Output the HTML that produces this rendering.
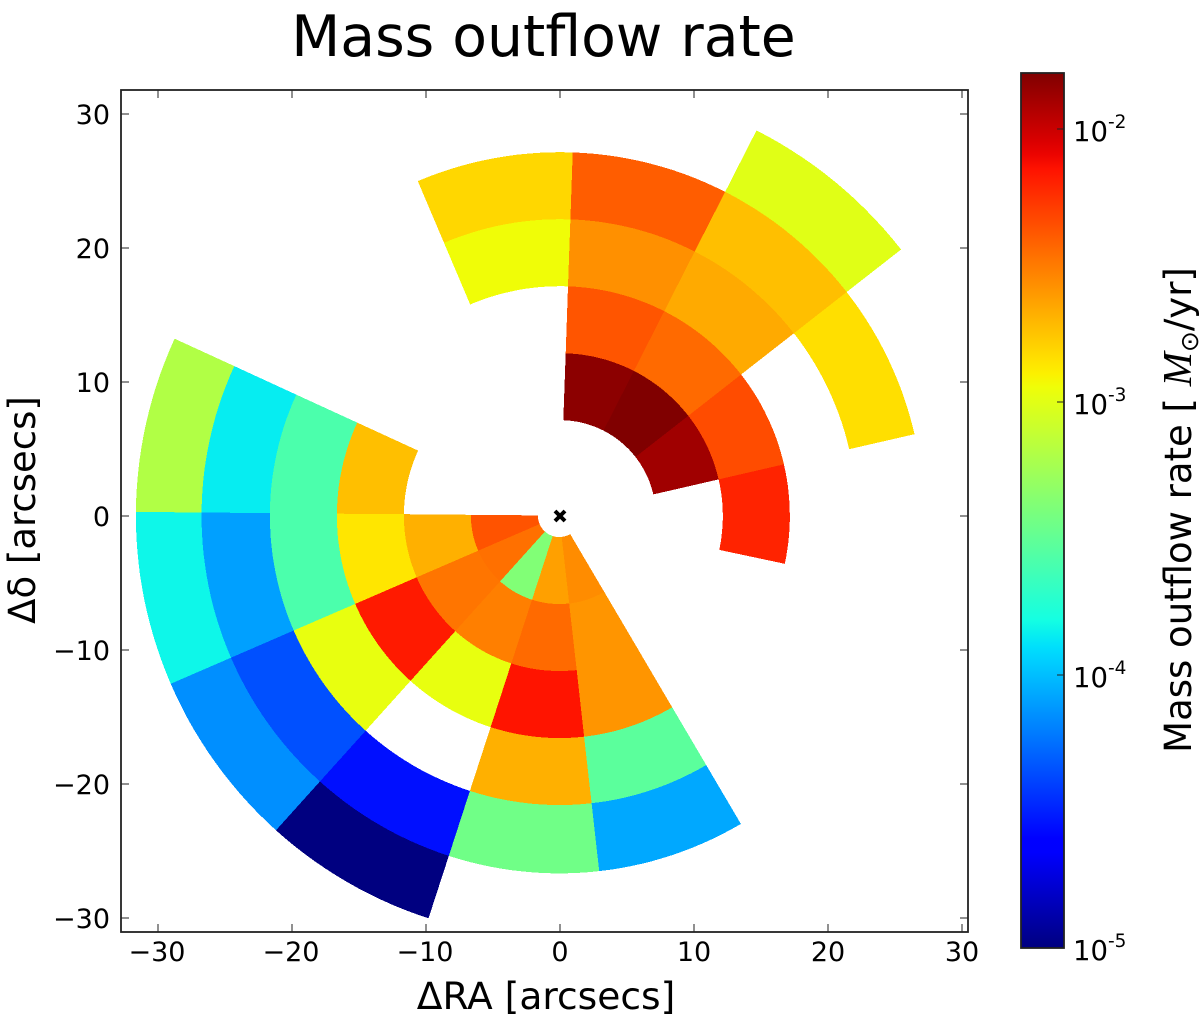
<!DOCTYPE html>
<html lang="en">
<head>
<meta charset="utf-8">
<title>Mass outflow rate</title>
<style>
html,body{margin:0;padding:0;background:#fff;width:1200px;height:1023px;overflow:hidden}
svg{display:block}
text{font-family:"DejaVu Sans","Liberation Sans",sans-serif;fill:#000}
</style>
</head>
<body>
<svg id="chart" xmlns="http://www.w3.org/2000/svg" width="1200" height="1023" viewBox="0 0 1200 1023">
  <defs>
    <linearGradient id="jet-gradient" x1="0" y1="1" x2="0" y2="0"></linearGradient>
  </defs>
  <text x="543.5" y="56" font-size="56.8" text-anchor="middle">Mass outflow rate</text>
  <g id="wedges"></g>
  <g id="marker"></g>
  <rect x="121" y="90" width="847" height="842" fill="none" stroke="#222" stroke-width="1.8"/>
  <g id="axis-ticks"></g>
  <text x="546" y="1009" font-size="37.6" text-anchor="middle">ΔRA [arcsecs]</text>
  <text transform="translate(35 510) rotate(-90)" font-size="37" text-anchor="middle">Δδ [arcsecs]</text>
  <rect x="1021" y="73" width="43" height="875" fill="url(#jet-gradient)" stroke="#222" stroke-width="1.8"/>
  <g id="colorbar-ticks"></g>
  <text transform="translate(1191 510) rotate(-90)" font-size="37" text-anchor="middle">Mass outflow rate [ <tspan font-family="'Liberation Serif',serif" font-style="italic" font-size="41">M</tspan><tspan font-size="25" dy="7">⊙</tspan><tspan dy="-7">/yr]</tspan></text>
</svg>
<script>
// Axis tick labels
const xTicks = [-30, -20, -10, 0, 10, 20, 30];
const yTicks = [-30, -20, -10, 0, 10, 20, 30];
const colorbarExponents = [-5, -4, -3, -2];

// North-east group: sector edges (deg from north, clockwise), ring edges (arcsec)
const upperAngles = [-23, 2, 27, 52, 77, 102];
const upperRadii = [7.15, 12.15, 17.15, 22.15, 27.15, 32.3];
// One row per sector, one value per ring (Msun/yr)
const upperRates = [
  [null, null, 1.14e-3, 1.54e-3, null],
  [1.48e-2, 4.26e-3, 2.68e-3, 4.0e-3, null],
  [1.6e-2, 3.61e-3, 2.19e-3, 1.85e-3, 9.9e-4],
  [1.3e-2, 4.56e-3, null, 1.45e-3, null],
  [null, 6.3e-3, null, null, null]
];

// South-west group
const lowerAngles = [294.7, 270.5, 246.6, 222, 198, 173.6, 149.5];
const lowerRadii = [1.6, 6.6, 11.6, 16.6, 21.6, 26.7, 31.6];
const lowerRates = [
  [null, null, 1.85e-3, 2.6e-4, 1.4e-4, 6.5e-4],
  [4.3e-3, 2.09e-3, 1.37e-3, 2.6e-4, 8.0e-5, 1.5e-4],
  [3.44e-3, 3.3e-3, 6.76e-3, 1.06e-3, 4.5e-5, 7.1e-5],
  [4.2e-4, 3.05e-3, 1.06e-3, null, 2.8e-5, 1e-5],
  [2.37e-3, 3.61e-3, 7.08e-3, 2.09e-3, 3.6e-4, null],
  [2.76e-3, 2.58e-3, 2.58e-3, 3.0e-4, 8.5e-5, null]
];

const SVGNS = 'http://www.w3.org/2000/svg';
const X = v => 560 + 13.4 * v;
const Y = v => 516 - 13.4 * v;
const logMin = -5, logMax = -1.795;
const barY = l => 948 - (l - logMin) * 273;

function lerpStops(f, stops) {
  for (let i = 1; i < stops.length; i++) {
    if (f <= stops[i][0]) {
      const a = stops[i - 1], b = stops[i];
      return a[1] + (b[1] - a[1]) * (f - a[0]) / (b[0] - a[0]);
    }
  }
  return stops[stops.length - 1][1];
}
function jet(f) {
  f = Math.max(0, Math.min(1, f));
  const r = lerpStops(f, [[0, 0], [0.35, 0], [0.66, 1], [0.89, 1], [1, 0.5]]);
  const g = lerpStops(f, [[0, 0], [0.125, 0], [0.375, 1], [0.64, 1], [0.91, 0], [1, 0]]);
  const b = lerpStops(f, [[0, 0.5], [0.11, 1], [0.34, 1], [0.65, 0], [1, 0]]);
  return 'rgb(' + Math.round(r * 255) + ',' + Math.round(g * 255) + ',' + Math.round(b * 255) + ')';
}
const rateColor = v => jet((Math.log10(v) - logMin) / (logMax - logMin));

function wedgePoints(a0, a1, r0, r1, cx, cy) {
  const pts = [];
  const n = 14;
  for (let i = 0; i <= n; i++) {
    const t = (a0 + (a1 - a0) * i / n) * Math.PI / 180;
    pts.push(X(cx + r1 * Math.sin(t)).toFixed(1) + ',' + Y(cy + r1 * Math.cos(t)).toFixed(1));
  }
  for (let i = n; i >= 0; i--) {
    const t = (a0 + (a1 - a0) * i / n) * Math.PI / 180;
    pts.push(X(cx + r0 * Math.sin(t)).toFixed(1) + ',' + Y(cy + r0 * Math.cos(t)).toFixed(1));
  }
  return pts.join(' ');
}

const wedgeGroup = document.getElementById('wedges');
function drawGroup(angles, radii, rates, cx, cy) {
  rates.forEach((row, s) => {
    row.forEach((v, k) => {
      if (v === null) return;
      const el = document.createElementNS(SVGNS, 'polygon');
      
      
      el.setAttribute('points', wedgePoints(angles[s], angles[s + 1], radii[k], radii[k + 1], cx, cy));
      el.setAttribute('fill', rateColor(v));
      el.setAttribute('shape-rendering', 'crispEdges');
      wedgeGroup.appendChild(el);
    });
  });
}
drawGroup(upperAngles, upperRadii, upperRates, 0, 0);
drawGroup(lowerAngles, lowerRadii, lowerRates, -0.05, 0.03);

// Centre marker
const markerGroup = document.getElementById('marker');
[[-1, -1, 1, 1], [-1, 1, 1, -1]].forEach(d => {
  const ln = document.createElementNS(SVGNS, 'line');
  
  
  ln.setAttribute('x1', X(0) + d[0] * 5);
  ln.setAttribute('y1', Y(0) + d[1] * 5);
  ln.setAttribute('x2', X(0) + d[2] * 5);
  ln.setAttribute('y2', Y(0) + d[3] * 5);
  ln.setAttribute('stroke', '#000');
  ln.setAttribute('stroke-width', '4');
  markerGroup.appendChild(ln);
});

function addLine(parent, x1, y1, x2, y2, name) {
  const ln = document.createElementNS(SVGNS, 'line');
  
  
  ln.setAttribute('x1', x1);
  ln.setAttribute('y1', y1);
  ln.setAttribute('x2', x2);
  ln.setAttribute('y2', y2);
  ln.setAttribute('stroke', '#222');
  ln.setAttribute('stroke-width', '1');
  parent.appendChild(ln);
}
const tickFmt = v => v < 0 ? '\u2212' + Math.abs(v) : String(v);
const axisTicks = document.getElementById('axis-ticks');
xTicks.forEach(v => {
  addLine(axisTicks, X(v), 932, X(v), 924, 'x-tick-bottom');
  addLine(axisTicks, X(v), 90, X(v), 98, 'x-tick-top');
  const t = document.createElementNS(SVGNS, 'text');
  
  
  t.setAttribute('x', X(v) + (v < 0 ? -1 : 0));
  t.setAttribute('y', 961);
  t.setAttribute('font-size', '27');
  t.setAttribute('text-anchor', 'middle');
  t.textContent = tickFmt(v);
  axisTicks.appendChild(t);
});
yTicks.forEach(v => {
  addLine(axisTicks, 121, Y(v), 129, Y(v), 'y-tick-left');
  addLine(axisTicks, 968, Y(v), 960, Y(v), 'y-tick-right');
  const t = document.createElementNS(SVGNS, 'text');
  
  
  t.setAttribute('x', 110);
  t.setAttribute('y', Y(v) + 10);
  t.setAttribute('font-size', '27');
  t.setAttribute('text-anchor', 'end');
  t.textContent = tickFmt(v);
  axisTicks.appendChild(t);
});

// Colorbar gradient
const grad = document.getElementById('jet-gradient');
for (let i = 0; i <= 64; i++) {
  const stop = document.createElementNS(SVGNS, 'stop');
  stop.setAttribute('offset', (i / 64).toFixed(4));
  stop.setAttribute('stop-color', jet(i / 64));
  grad.appendChild(stop);
}

// Colorbar ticks
const cbTicks = document.getElementById('colorbar-ticks');
colorbarExponents.forEach(e => {
  const y = barY(e);
  addLine(cbTicks, 1064, y, 1057, y, 'colorbar-tick');
  const t = document.createElementNS(SVGNS, 'text');
  
  
  t.setAttribute('x', 1073);
  t.setAttribute('y', y + 12);
  t.setAttribute('font-size', '27.5');
  const base = document.createElementNS(SVGNS, 'tspan');
  base.textContent = '10';
  const sup = document.createElementNS(SVGNS, 'tspan');
  sup.setAttribute('font-size', '18.5');
  sup.setAttribute('dy', '-13');
  sup.textContent = String(e);
  t.appendChild(base);
  t.appendChild(sup);
  cbTicks.appendChild(t);
});
</script>
</body>
</html>
